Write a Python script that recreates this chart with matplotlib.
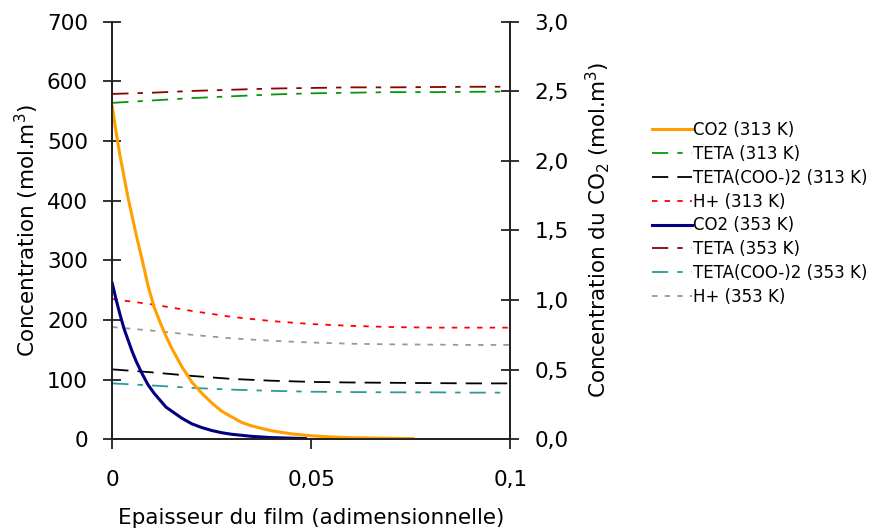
import matplotlib
matplotlib.use('Agg')
import matplotlib.pyplot as plt
from matplotlib.ticker import FuncFormatter

plt.rcParams['font.family'] = ['DejaVu Sans']
plt.rcParams['mathtext.fontset'] = 'dejavusans'

# CO2 profiles (right axis, mol.m-3)
x_co2_313 = [0, 0.001, 0.002, 0.003, 0.004, 0.005, 0.006, 0.0075, 0.009, 0.0105, 0.012, 0.0135, 0.015,
             0.0175, 0.02, 0.0225, 0.025, 0.0275, 0.03, 0.0325, 0.035, 0.04, 0.045, 0.05, 0.055, 0.06, 0.0755]
co2_313 = [2.39, 2.20, 2.03, 1.88, 1.73, 1.60, 1.47, 1.29, 1.10, 0.95, 0.84, 0.74, 0.65,
           0.52, 0.41, 0.33, 0.26, 0.20, 0.16, 0.12, 0.095, 0.06, 0.038, 0.024, 0.016, 0.01, 0.004]
x_co2_353 = [0, 0.001, 0.002, 0.003, 0.004, 0.005, 0.006, 0.0075, 0.009, 0.0105, 0.012, 0.0135, 0.015,
             0.0175, 0.02, 0.0225, 0.025, 0.0275, 0.03, 0.035, 0.04, 0.0485]
co2_353 = [1.12, 1.00, 0.89, 0.79, 0.71, 0.63, 0.56, 0.47, 0.39, 0.33, 0.28, 0.23, 0.20,
           0.15, 0.11, 0.083, 0.062, 0.046, 0.035, 0.02, 0.011, 0.004]

# other species (left axis)
x_sp = [0, 0.01, 0.02, 0.03, 0.04, 0.05, 0.06, 0.07, 0.08, 0.09, 0.1]
teta_313 = [564, 568, 572, 575, 578, 580, 581, 582, 582, 582.5, 583]
teta_353 = [579, 581, 584, 586, 588, 589, 590, 590, 590.5, 591, 591]
tetacoo_313 = [117, 112, 106, 101, 98, 96, 95, 94.5, 94, 93.5, 93.5]
hplus_313 = [235, 226, 215, 205, 198, 193, 190, 188, 187, 187, 187]
tetacoo_353 = [93.5, 90, 86, 83, 81, 79.5, 79, 78.5, 78.5, 78, 78]
hplus_353 = [188, 182, 175, 169, 165, 162, 160, 159, 158.5, 158, 158]

fig = plt.figure(figsize=(8.77, 5.31), dpi=100)
ax = fig.add_axes([0.128, 0.173, 0.454, 0.786])
ax2 = ax.twinx()

l_teta313, = ax.plot(x_sp, teta_313, color='#0a960a', lw=1.3, ls=(0, (9, 5, 3, 5)), label='TETA (313 K)')
l_coo313, = ax.plot(x_sp, tetacoo_313, color='black', lw=1.3, ls=(0, (9, 5)), label='TETA(COO-)2 (313 K)')
l_h313, = ax.plot(x_sp, hplus_313, color='#ff0000', lw=1.3, ls=(0, (3, 4)), label='H+ (313 K)')
l_teta353, = ax.plot(x_sp, teta_353, color='#8b0000', lw=1.3, ls=(0, (9, 5, 3, 5)), label='TETA (353 K)')
l_coo353, = ax.plot(x_sp, tetacoo_353, color='#2a9a9a', lw=1.3, ls=(0, (9, 5, 3, 5)), label='TETA(COO-)2 (353 K)')
l_h353, = ax.plot(x_sp, hplus_353, color='#999999', lw=1.3, ls=(0, (3, 4)), label='H+ (353 K)')

l_co2313, = ax2.plot(x_co2_313, co2_313, color='#ffa000', lw=2.2, label='CO2 (313 K)')
l_co2353, = ax2.plot(x_co2_353, co2_353, color='#000080', lw=2.2, label='CO2 (353 K)')

ax.set_xlim(0, 0.1)
ax.set_ylim(0, 700)
ax2.set_ylim(0, 3.0)
ax.set_xticks([0, 0.05, 0.1])
ax.set_yticks(range(0, 701, 100))
ax2.set_yticks([0, 0.5, 1.0, 1.5, 2.0, 2.5, 3.0])

ax.xaxis.set_major_formatter(FuncFormatter(lambda v, p: ('%g' % v).replace('.', ',')))
ax2.yaxis.set_major_formatter(FuncFormatter(lambda v, p: ('%.1f' % v).replace('.', ',')))

for a in (ax, ax2):
    a.spines['top'].set_visible(False)
    for s in a.spines.values():
        s.set_linewidth(1.3)
        s.set_color('#222222')
ax.tick_params(axis='y', direction='inout', length=13, width=1.3, labelsize=15.5, pad=11, color='#222222')
ax.tick_params(axis='x', direction='out', length=7, width=1.3, labelsize=15.5, pad=15, color='#222222')
ax2.tick_params(axis='y', direction='inout', length=13, width=1.3, labelsize=15.5, pad=11, color='#222222')

ax.set_xlabel('Epaisseur du film (adimensionnelle)', fontsize=15.5, labelpad=13)
ax.set_ylabel('Concentration (mol.m$^{3}$)', fontsize=15.5, labelpad=4)
ax2.set_ylabel('Concentration du CO$_{2}$ (mol.m$^{3}$)', fontsize=15.5, labelpad=10)

handles = [l_co2313, l_teta313, l_coo313, l_h313, l_co2353, l_teta353, l_coo353, l_h353]
fig.legend(handles=handles, loc='upper left', bbox_to_anchor=(0.7434, 0.772), frameon=False,
           fontsize=12, handlelength=2.4, handletextpad=0.05, labelspacing=0.35,
           borderpad=0, borderaxespad=0)

fig.savefig('out.png', dpi=100)
